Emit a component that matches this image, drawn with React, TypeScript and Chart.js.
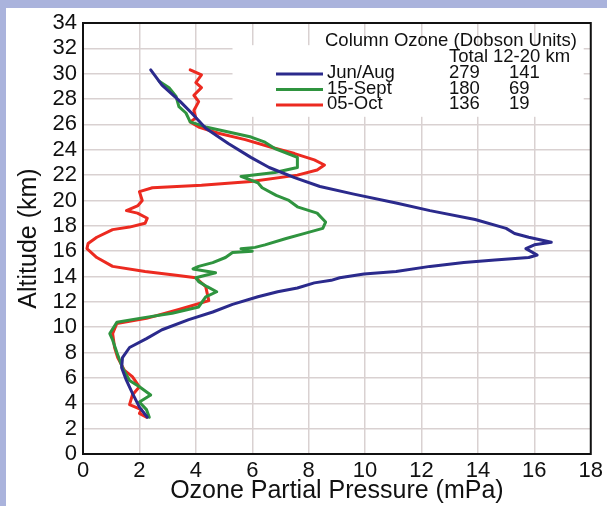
import React, { useEffect, useRef } from "react";
import { Chart, registerables } from "chart.js";

Chart.register(...registerables);

// ---- Data (ozone partial pressure in mPa vs altitude in km) ----
const junAugPressure = [2.4, 2.8, 3.45, 3.85, 4.35, 5.15, 5.95, 6.6, 7.5, 8.4, 9.6, 11.1, 12.3, 13.9, 15.0, 15.3, 15.8, 16.6, 16.0, 15.7, 16.1, 15.8, 14.6, 13.5, 12.3, 11.1, 9.96, 9.1, 8.8, 8.2, 7.6, 6.9, 6.2, 5.3, 4.6, 3.75, 2.8, 2.25, 1.65, 1.4, 1.37, 1.54, 1.75, 2.0, 2.28];
const junAugAltitude = [30.3, 29.1, 27.8, 26.9, 25.7, 24.5, 23.4, 22.6, 21.8, 21.1, 20.5, 19.8, 19.2, 18.5, 17.8, 17.4, 17.1, 16.7, 16.5, 16.2, 15.7, 15.5, 15.3, 15.1, 14.8, 14.4, 14.2, 13.9, 13.7, 13.5, 13.1, 12.8, 12.4, 11.8, 11.2, 10.6, 9.8, 9.1, 8.4, 7.6, 6.8, 5.8, 4.8, 3.7, 2.9];

const septPressure = [2.7, 3.05, 3.3, 3.4, 3.65, 3.8, 4.35, 5.16, 5.96, 6.45, 6.8, 7.6, 7.6, 6.8, 5.6, 6.2, 6.35, 6.85, 7.3, 7.6, 8.3, 8.6, 8.5, 7.86, 7.2, 6.45, 6.1, 5.6, 6.0, 5.3, 5.05, 4.6, 4.1, 3.9, 4.7, 4.0, 4.1, 4.4, 4.74, 4.35, 4.1, 3.16, 2.0, 1.2, 0.95, 1.05, 1.2, 1.4, 1.65, 2.0, 2.4, 2.0, 2.25, 2.35];
const septAltitude = [29.4, 28.9, 28.2, 27.4, 26.9, 26.2, 25.8, 25.4, 25.0, 24.6, 24.1, 23.4, 22.6, 22.2, 21.9, 21.4, 21.0, 20.4, 20.0, 19.5, 19.0, 18.3, 17.8, 17.4, 17.0, 16.5, 16.3, 16.2, 16.0, 15.9, 15.5, 15.1, 14.8, 14.6, 14.3, 13.9, 13.6, 13.2, 12.8, 12.4, 11.6, 11.1, 10.7, 10.4, 9.5, 9.0, 8.0, 6.8, 5.8, 5.3, 4.65, 4.1, 3.5, 2.9];

const octPressure = [3.8, 4.2, 4.0, 4.2, 3.93, 4.1, 3.93, 4.0, 3.8, 4.1, 4.8, 5.75, 6.67, 7.5, 8.2, 8.56, 8.3, 7.6, 5.96, 4.2, 2.46, 2.0, 2.1, 1.95, 1.54, 1.93, 2.28, 2.2, 1.65, 1.05, 0.49, 0.18, 0.14, 0.49, 1.05, 2.2, 3.3, 4.0, 4.35, 4.46, 3.4, 2.25, 1.2, 1.05, 1.12, 1.23, 1.47, 1.75, 2.0, 1.75, 1.65, 2.07, 2.0, 2.25];
const octAltitude = [30.3, 29.9, 29.3, 28.9, 28.3, 27.8, 27.1, 26.5, 26.2, 25.8, 25.3, 24.8, 24.2, 23.7, 23.2, 22.8, 22.4, 22.0, 21.5, 21.2, 21.0, 20.7, 20.0, 19.6, 19.2, 19.0, 18.6, 18.2, 17.9, 17.7, 17.1, 16.6, 16.2, 15.5, 14.8, 14.4, 14.1, 13.9, 13.2, 12.1, 11.4, 10.7, 10.3, 9.5, 8.4, 7.6, 6.6, 6.1, 5.3, 4.65, 3.9, 3.5, 3.2, 2.9];

const seriesLabels = ["Jun/Aug", "15-Sept", "05-Oct"];
const seriesColors = ["#2b2a8c", "#2f943f", "#ec2a20"];
const columnTotals = ["279", "180", "136"];
const column12to20 = ["141", "69", "19"];
const legendTitle = "Column Ozone (Dobson Units)";
const legendHeaders = ["Total", "12-20 km"];

const xMin = 0, xMax = 18, xStep = 2;
const yMin = 0, yMax = 34, yStep = 2;

const FONT = "'Liberation Sans', Arial, sans-serif";

function toPoints(xs: number[], ys: number[]) {
  return xs.map((x, i) => ({ x, y: ys[i] }));
}

const framePlugin = {
  id: "frame",
  beforeDraw(chart: any) {
    const { ctx, width, height } = chart;
    ctx.save();
    ctx.fillStyle = "#aab3dc";
    ctx.fillRect(0, 0, width, height);
    ctx.fillStyle = "#ffffff";
    ctx.fillRect(6, 8, width - 6, height - 8);
    ctx.restore();
  },
  beforeDatasetsDraw(chart: any) {
    const { ctx, scales } = chart;
    const x = scales.x, y = scales.y;
    const l = x.getPixelForValue(5.3), r = x.getPixelForValue(17.75);
    const t = y.getPixelForValue(32.25), b = y.getPixelForValue(26.6);
    ctx.save();
    ctx.fillStyle = "#ffffff";
    ctx.fillRect(l, t, r - l, b - t);
    ctx.restore();
  },
  afterDatasetsDraw(chart: any) {
    const { ctx, chartArea } = chart;
    const L = chartArea.left, T = chartArea.top;
    ctx.save();
    // border
    ctx.strokeStyle = "#111";
    ctx.lineWidth = 2;
    ctx.strokeRect(chartArea.left, chartArea.top, chartArea.right - chartArea.left, chartArea.bottom - chartArea.top);
    // legend
    ctx.fillStyle = "#111";
    ctx.font = `18.5px ${FONT}`;
    ctx.textBaseline = "middle";
    ctx.textAlign = "left";
    ctx.fillText(legendTitle, L + 242, T + 18);
    ctx.fillText(legendHeaders[0], L + 366, T + 34);
    ctx.fillText(legendHeaders[1], L + 410, T + 34);
    seriesLabels.forEach((lab, i) => {
      const yy = T + 50 + i * 15.5;
      ctx.strokeStyle = seriesColors[i];
      ctx.lineWidth = 3;
      ctx.beginPath();
      ctx.moveTo(L + 193, yy + 1);
      ctx.lineTo(L + 240, yy + 1);
      ctx.stroke();
      ctx.fillText(lab, L + 244, yy);
      ctx.fillText(columnTotals[i], L + 366, yy);
      ctx.fillText(column12to20[i], L + 426, yy);
    });
    ctx.restore();
  },
};

export default function App() {
  const ref = useRef<HTMLCanvasElement | null>(null);
  useEffect(() => {
    document.body.style.margin = "0";
    const canvas = ref.current!;
    const chart = new Chart(canvas, {
      type: "scatter",
      data: {
        datasets: [
          { label: seriesLabels[0], data: toPoints(junAugPressure, junAugAltitude) },
          { label: seriesLabels[1], data: toPoints(septPressure, septAltitude) },
          { label: seriesLabels[2], data: toPoints(octPressure, octAltitude) },
        ].map((d, i) => ({
          ...d,
          showLine: true,
          borderColor: seriesColors[i],
          backgroundColor: seriesColors[i],
          borderWidth: 3,
          pointRadius: 0,
          tension: 0,
          borderJoinStyle: "round" as const,
          borderCapStyle: "round" as const,
        })),
      },
      options: {
        responsive: false,
        animation: false,
        devicePixelRatio: 1,
        layout: { padding: { left: 0, top: 23, right: 12, bottom: 0 } },
        plugins: { legend: { display: false }, tooltip: { enabled: false } },
        scales: {
          x: {
            type: "linear",
            min: xMin,
            max: xMax,
            afterFit: (s: any) => { s.height = 52; },
            ticks: { stepSize: xStep, autoSkip: false, color: "#111", font: { family: FONT, size: 22 }, padding: 4, maxRotation: 0 },
            grid: { color: "#d9d1d1", lineWidth: 1.5, drawTicks: false },
            border: { display: false },
            title: { display: true, text: "Ozone Partial Pressure (mPa)", color: "#111", font: { family: FONT, size: 25 }, padding: { top: 0, bottom: 0 } },
          },
          y: {
            type: "linear",
            min: yMin,
            max: yMax,
            afterFit: (s: any) => { s.width = 83; },
            ticks: { stepSize: yStep, autoSkip: false, color: "#111", font: { family: FONT, size: 22 }, padding: 6 },
            grid: { color: "#d9d1d1", lineWidth: 1.5, drawTicks: false },
            border: { display: false },
            title: { display: true, text: "Altitude (km)", color: "#111", font: { family: FONT, size: 25 }, padding: { top: 14, bottom: 0 } },
          },
        },
      },
      plugins: [framePlugin],
    });
    return () => chart.destroy();
  }, []);
  return <canvas ref={ref} width={607} height={506} style={{ display: "block" }} />;
}
